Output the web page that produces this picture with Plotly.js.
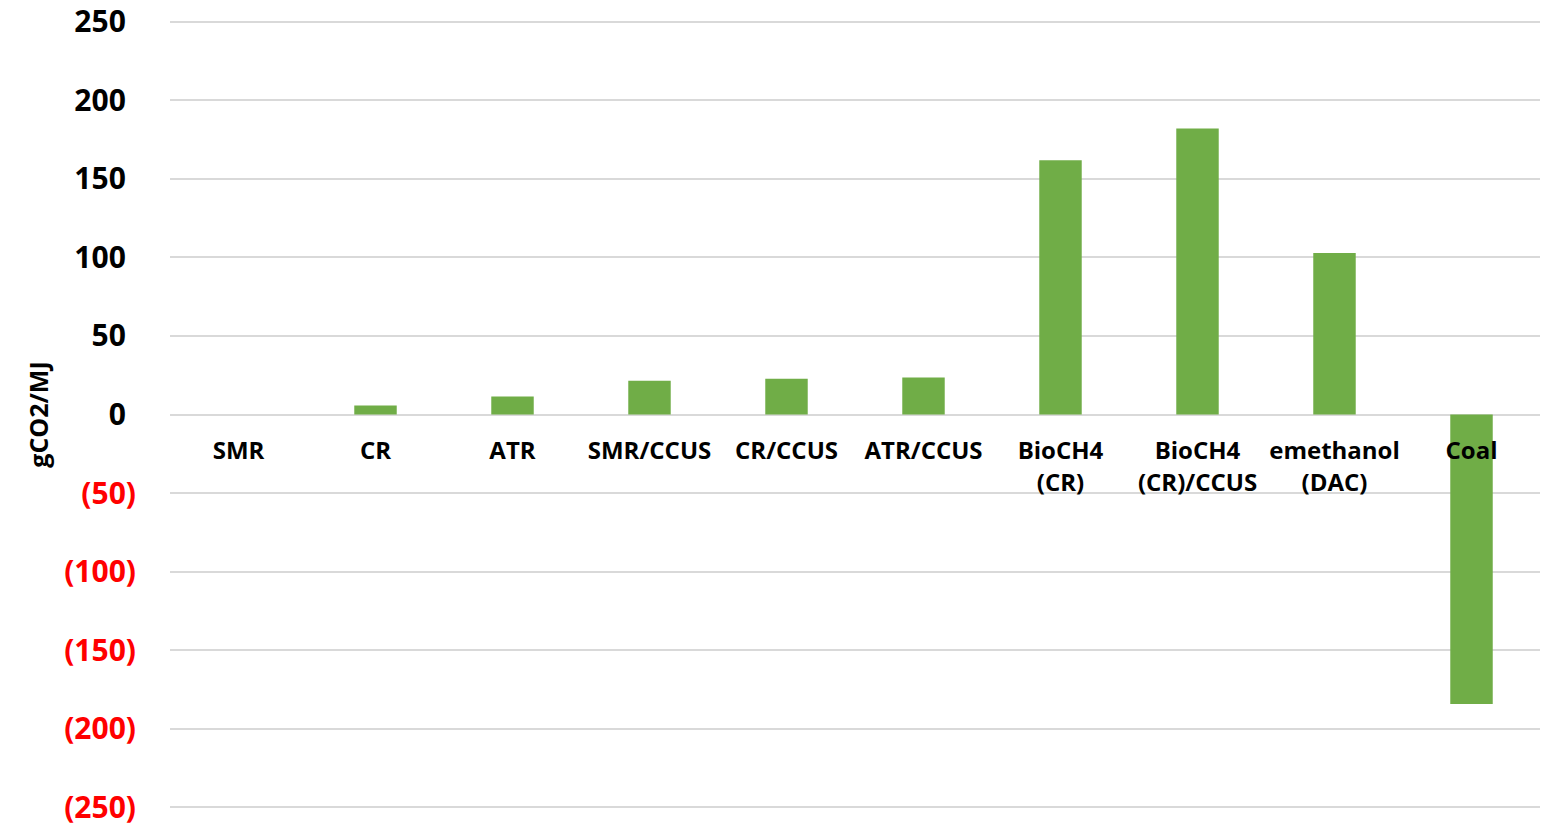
<!DOCTYPE html>
<html>
<head>
<meta charset="utf-8">
<script src="https://cdn.plot.ly/plotly-3.0.1.min.js"></script>
<style>
  html, body { margin: 0; padding: 0; background: #ffffff; }
  #chart { width: 1542px; height: 825px; }
</style>
</head>
<body>
<div id="chart"></div>
<script>
// Life-cycle emissions by production pathway (gCO2/MJ)
const categories = ['SMR', 'CR', 'ATR', 'SMR/CCUS', 'CR/CCUS', 'ATR/CCUS',
  'BioCH4<br>(CR)', 'BioCH4<br>(CR)/CCUS', 'emethanol<br>(DAC)', 'Coal'];
const emissions = [0, 5.7, 11.5, 21.5, 22.8, 23.6, 161.8, 181.9, 102.7, -184.2];

const yTickVals = [250, 200, 150, 100, 50, 0, -50, -100, -150, -200, -250];

// Accounting style labels: negatives in red parentheses, positives padded by a hidden ")"
const yTickText = yTickVals.map(v => v < 0
  ? '<span style="color:#ff0000">(' + Math.abs(v) + ')</span>'
  : v + '<span style="color:rgba(0,0,0,0)">)</span>');

const trace = {
  type: 'bar',
  x: categories,
  y: emissions,
  marker: { color: '#70ad47' },
  hoverinfo: 'x+y'
};

const layout = {
  width: 1542,
  height: 825,
  margin: { l: 170, r: 2, t: 20, b: 16 },
  paper_bgcolor: '#ffffff',
  plot_bgcolor: '#ffffff',
  bargap: 0.69,
  showlegend: false,
  font: { family: '"Open Sans", sans-serif', color: '#000000' },
  xaxis: {
    type: 'category',
    anchor: 'free',
    position: 0.5,
    showgrid: false,
    showline: false,
    zeroline: false,
    ticks: 'outside',
    ticklen: 15,
    tickcolor: 'rgba(0,0,0,0)',
    tickfont: { family: '"Open Sans", sans-serif', size: 24, weight: 'bold', color: '#000000' },
    tickangle: 0,
    automargin: false
  },
  yaxis: {
    range: [-251, 251],
    tickvals: yTickVals,
    ticktext: yTickText,
    showgrid: true,
    gridcolor: '#d9d9d9',
    gridwidth: 2,
    zeroline: false,
    showline: false,
    ticks: 'outside',
    ticklen: 27,
    tickcolor: 'rgba(0,0,0,0)',
    ticklabeloverflow: 'allow',
    tickfont: { family: '"Open Sans", sans-serif', size: 30, weight: 'bold', color: '#000000' },
    automargin: false,
    title: {
      text: 'gCO2/MJ',
      standoff: 8,
      font: { family: '"Open Sans", sans-serif', size: 25, weight: 'bold', color: '#000000' }
    }
  }
};

Plotly.newPlot('chart', [trace], layout, { displayModeBar: false, staticPlot: true });
</script>
</body>
</html>
